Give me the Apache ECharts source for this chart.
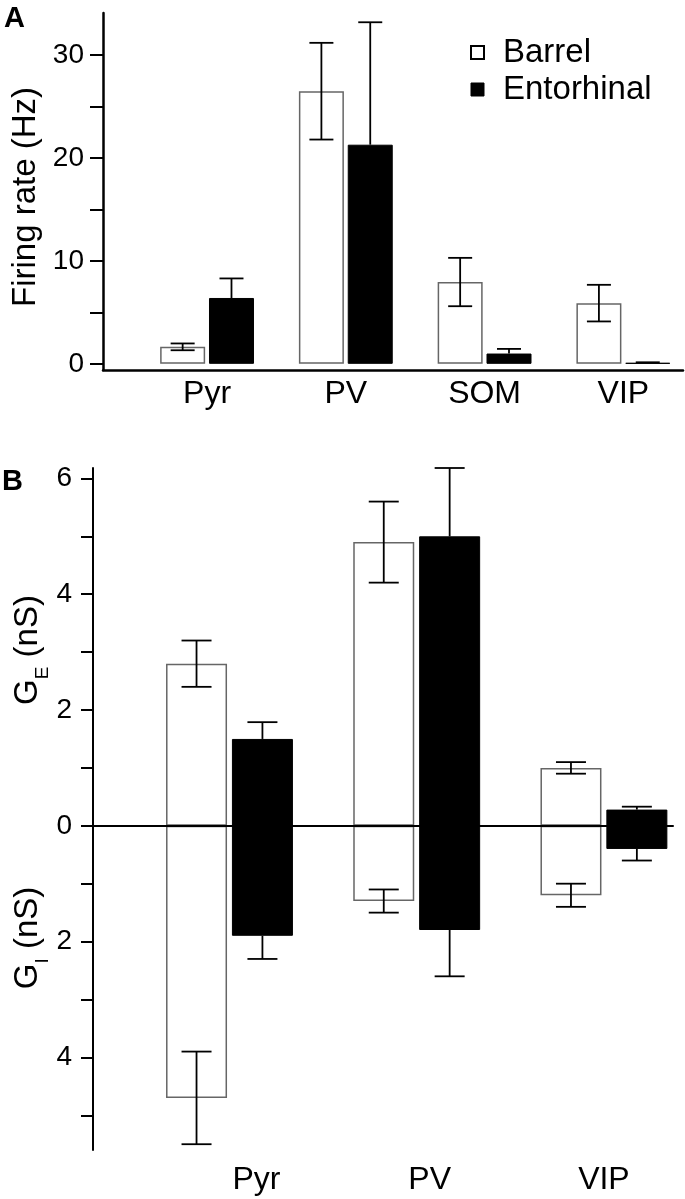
<!DOCTYPE html>
<html>
<head>
<meta charset="utf-8">
<script src="https://cdn.jsdelivr.net/npm/echarts@6/dist/echarts.min.js"></script>
<style>html,body{margin:0;padding:0;background:#fff;}#c{width:685px;height:1199px;}</style>
</head>
<body>
<div id="c"></div>
<script>
// ---- Panel A: firing rate ----
const categoriesA = ['Pyr', 'PV', 'SOM', 'VIP'];
const barrelRate = [1.65, 26.5, 7.95, 5.9];
const barrelRateErr = [0.33, 4.7, 2.35, 1.78];
const entRate = [6.4, 21.3, 1.0, 0.1];
const entRateErr = [1.9, 11.9, 0.45, 0.05];
const rateTicks = [0, 5, 10, 15, 20, 25, 30];
const rateLabels = [0, 10, 20, 30];

// ---- Panel B: conductances ----
const categoriesB = ['Pyr', 'PV', 'VIP'];
const barrelGE = [2.8, 4.9, 1.0];
const barrelGEErr = [0.4, 0.7, 0.1];
const entGE = [1.5, 5.0, 0.28];
const entGEErr = [0.29, 1.18, 0.05];
const barrelGI = [4.7, 1.3, 1.2];
const barrelGIErr = [0.8, 0.2, 0.2];
const entGI = [1.9, 1.8, 0.4];
const entGIErr = [0.4, 0.8, 0.2];
const gTicks = [-5, -4, -3, -2, -1, 0, 1, 2, 3, 4, 5, 6];
const gLabels = [-4, -2, 0, 2, 4, 6];

const FONT = "'Liberation Sans', Arial, Helvetica, sans-serif";
const OFF = 0.176; // half distance between paired bars (axis units)

function pos(i, side) { return i + 1 + side * OFF; }

function errRender(capHalf) {
  return function (params, api) {
    const x = api.value(0);
    const a = api.coord([x, api.value(1)]);
    const b = api.coord([x, api.value(2)]);
    const st = { stroke: '#000', lineWidth: 1.8 };
    const ch = [{ type: 'line', shape: { x1: a[0], y1: a[1], x2: b[0], y2: b[1] }, style: st }];
    if (api.value(3)) ch.push({ type: 'line', shape: { x1: a[0] - capHalf, y1: a[1], x2: a[0] + capHalf, y2: a[1] }, style: st });
    if (api.value(4)) ch.push({ type: 'line', shape: { x1: b[0] - capHalf, y1: b[1], x2: b[0] + capHalf, y2: b[1] }, style: st });
    return { type: 'group', children: ch };
  };
}

// error data
const errA = [];
barrelRate.forEach((v, i) => errA.push([pos(i, -1), v - barrelRateErr[i], v + barrelRateErr[i], 1, 1]));
entRate.forEach((v, i) => errA.push([pos(i, 1), v, v + entRateErr[i], 0, 1]));
const errB = [];
barrelGE.forEach((v, i) => errB.push([pos(i, -1), v - barrelGEErr[i], v + barrelGEErr[i], 1, 1]));
barrelGI.forEach((v, i) => errB.push([pos(i, -1), -(v - barrelGIErr[i]), -(v + barrelGIErr[i]), 1, 1]));
entGE.forEach((v, i) => errB.push([pos(i, 1), v, v + entGEErr[i], 0, 1]));
entGI.forEach((v, i) => errB.push([pos(i, 1), -v, -(v + entGIErr[i]), 0, 1]));

const barrelStyle = { color: '#fff', borderColor: '#666', borderWidth: 1.5 };
const entStyle = { color: '#000', borderColor: '#000', borderWidth: 1 };

const chart = echarts.init(document.getElementById('c'), null, { renderer: 'canvas' });
chart.setOption({
  animation: false,
  backgroundColor: '#fff',
  textStyle: { fontFamily: FONT },
  legend: {
    orient: 'vertical', left: 465, top: 31, itemGap: 4,
    itemWidth: 13, itemHeight: 13, icon: 'rect',
    textStyle: { fontFamily: FONT, fontSize: 33, color: '#000', padding: [0, 0, 0, 14] },
    data: [
      { name: 'Barrel', itemStyle: { color: '#fff', borderColor: '#000', borderWidth: 2 } },
      { name: 'Entorhinal', itemStyle: { color: '#000', borderColor: '#000', borderWidth: 1 } }
    ]
  },
  grid: [
    { left: 103, right: 2, top: 13, height: 357 },
    { left: 93, right: 12, top: 468, height: 682 }
  ],
  xAxis: [
    {
      gridIndex: 0, type: 'value', min: 0.25, max: 4.43, position: 'bottom',
      splitLine: { show: false },
      axisLine: { show: true, onZero: false, lineStyle: { color: '#000', width: 2.5 } },
      axisTick: { show: false },
      axisLabel: {
        customValues: [1, 2, 3, 4], formatter: v => categoriesA[Math.round(v) - 1],
        fontFamily: FONT, fontSize: 32, color: '#000', margin: 8
      }
    },
    {
      gridIndex: 1, type: 'value', min: 0.271, max: 3.369, position: 'bottom', z: 10,
      splitLine: { show: false },
      axisLine: { show: true, onZero: true, lineStyle: { color: '#000', width: 2 } },
      axisTick: { show: false }, axisLabel: { show: false }
    },
    {
      gridIndex: 1, type: 'value', min: 0.271, max: 3.369, position: 'bottom',
      splitLine: { show: false },
      axisLine: { show: false, onZero: false },
      axisTick: { show: false },
      axisLabel: {
        customValues: [1, 2, 3],
        formatter: v => { const i = Math.round(v) - 1; return '{c' + i + '|' + categoriesB[i] + '}'; },
        rich: {
          c0: { fontFamily: FONT, fontSize: 32, color: '#000', padding: [0, 0, 0, 54] },
          c1: { fontFamily: FONT, fontSize: 32, color: '#000', padding: [0, 0, 0, 26] },
          c2: { fontFamily: FONT, fontSize: 32, color: '#000' }
        },
        margin: 14
      }
    }
  ],
  yAxis: [
    {
      gridIndex: 0, type: 'value', min: -0.6, max: 34.1,
      splitLine: { show: false },
      axisLine: { show: true, onZero: false, lineStyle: { color: '#000', width: 2.5 } },
      axisTick: { show: true, customValues: rateTicks, length: 13, lineStyle: { color: '#000', width: 2 } },
      axisLabel: { customValues: rateLabels, fontFamily: FONT, fontSize: 28, color: '#000', margin: 19 }
    },
    {
      gridIndex: 1, type: 'value', min: -5.6, max: 6.18,
      splitLine: { show: false },
      axisLine: { show: true, onZero: false, lineStyle: { color: '#000', width: 2 } },
      axisTick: { show: true, customValues: gTicks, length: 12, lineStyle: { color: '#000', width: 2 } },
      axisLabel: { customValues: gLabels, formatter: v => String(Math.abs(v)), fontFamily: FONT, fontSize: 28, color: '#000', margin: 21 }
    }
  ],
  graphic: [
    { type: 'text', left: 4, top: 4, style: { text: 'A', fontSize: 29, fontWeight: 'bold', fontFamily: FONT, fill: '#000' } },
    { type: 'text', left: 2, top: 467, style: { text: 'B', fontSize: 29, fontWeight: 'bold', fontFamily: FONT, fill: '#000' } },
    { type: 'text', x: 26, y: 197, rotation: Math.PI / 2,
      style: { text: 'Firing rate (Hz)', fontSize: 33, fontFamily: FONT, fill: '#000', align: 'center', verticalAlign: 'middle' } },
    { type: 'text', x: 24, y: 650, rotation: Math.PI / 2,
      style: { text: '{m|G}{s|E}{m| (nS)}', align: 'center', verticalAlign: 'middle',
        rich: { m: { fontSize: 33, fontFamily: FONT, color: '#000', lineHeight: 40, verticalAlign: 'bottom' },
                s: { fontSize: 19, fontFamily: FONT, color: '#000', lineHeight: 40, verticalAlign: 'bottom', padding: [0, 0, -8, 0] } } } },
    { type: 'text', x: 24, y: 938, rotation: Math.PI / 2,
      style: { text: '{m|G}{s|I}{m| (nS)}', align: 'center', verticalAlign: 'middle',
        rich: { m: { fontSize: 33, fontFamily: FONT, color: '#000', lineHeight: 40, verticalAlign: 'bottom' },
                s: { fontSize: 19, fontFamily: FONT, color: '#000', lineHeight: 40, verticalAlign: 'bottom', padding: [0, 0, -8, 0] } } } }
  ],
  series: [
    { type: 'bar', name: 'Barrel', xAxisIndex: 0, yAxisIndex: 0, barWidth: 45, barGap: '-100%',
      itemStyle: barrelStyle, data: barrelRate.map((v, i) => [pos(i, -1), v]) },
    { type: 'bar', name: 'Entorhinal', xAxisIndex: 0, yAxisIndex: 0, barWidth: 45, barGap: '-100%',
      itemStyle: entStyle, data: entRate.map((v, i) => [pos(i, 1), v]) },
    { type: 'custom', xAxisIndex: 0, yAxisIndex: 0, renderItem: errRender(12), data: errA, z: 5, silent: true },

    { type: 'bar', name: 'Barrel GE', xAxisIndex: 2, yAxisIndex: 1, barWidth: 61, barGap: '-100%',
      itemStyle: barrelStyle, data: barrelGE.map((v, i) => [pos(i, -1), v]) },
    { type: 'bar', name: 'Barrel GI', xAxisIndex: 2, yAxisIndex: 1, barWidth: 61, barGap: '-100%',
      itemStyle: barrelStyle, data: barrelGI.map((v, i) => [pos(i, -1), -v]) },
    { type: 'bar', name: 'Entorhinal GE', xAxisIndex: 2, yAxisIndex: 1, barWidth: 61, barGap: '-100%',
      itemStyle: entStyle, data: entGE.map((v, i) => [pos(i, 1), v]) },
    { type: 'bar', name: 'Entorhinal GI', xAxisIndex: 2, yAxisIndex: 1, barWidth: 61, barGap: '-100%',
      itemStyle: entStyle, data: entGI.map((v, i) => [pos(i, 1), -v]) },
    { type: 'custom', xAxisIndex: 2, yAxisIndex: 1, renderItem: errRender(15), data: errB, z: 5, silent: true }
  ]
});
</script>
</body>
</html>
